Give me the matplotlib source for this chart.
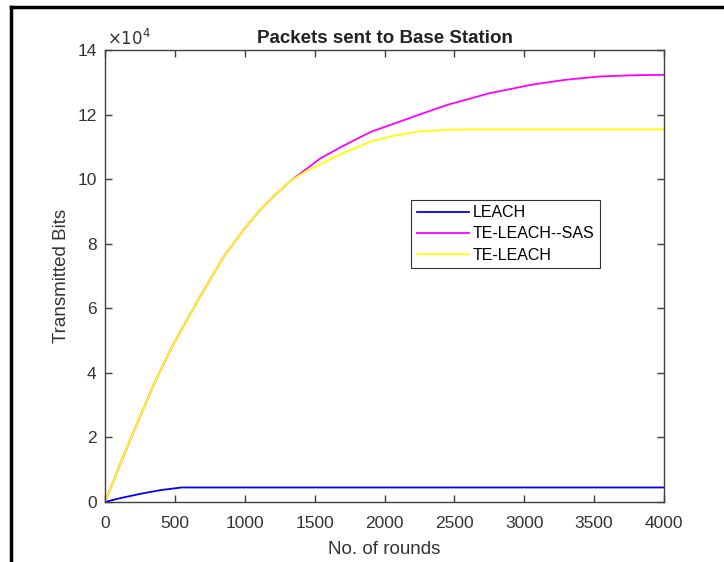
import matplotlib
matplotlib.use('Agg')
import matplotlib.pyplot as plt
from matplotlib.lines import Line2D
from matplotlib.ticker import FuncFormatter

plt.rcParams['font.family'] = ['Liberation Sans', 'DejaVu Sans']

# valores (bits transmitidos)
rounds_leach = [0, 100, 250, 400, 550, 4000]
bits_leach = [0, 1100, 2500, 3700, 4500, 4500]

rounds_sas = [0, 100, 200, 350, 480, 680, 850, 990, 1100, 1230, 1330, 1440,
              1540, 1700, 1900, 2250, 2450, 2750, 3060, 3300, 3540, 3800, 4000]
bits_sas = [0, 10800, 21300, 36500, 48100, 63600, 76000, 84200, 90000, 95600, 99500, 103100,
            106400, 110200, 114600, 120000, 123000, 126600, 129300, 130800, 131800, 132200, 132300]

rounds_te = [0, 100, 200, 350, 480, 680, 850, 990, 1100, 1230, 1330, 1440,
             1540, 1700, 1900, 2050, 2250, 2450, 2600, 4000]
bits_te = [0, 10800, 21300, 36500, 48100, 63600, 76000, 84200, 90000, 95600, 99500, 102500,
           104600, 108000, 111600, 113300, 114800, 115300, 115400, 115400]

fig = plt.figure(figsize=(7.24, 5.62), dpi=100)
ax = fig.add_axes([105/724, 1-502/562, (664-105)/724, (502-50)/562])

ax.plot(rounds_leach, bits_leach, color=(0, 0, 1), lw=1.3, label='LEACH')
ax.plot(rounds_sas, bits_sas, color=(1, 0, 1), lw=1.3, label='TE-LEACH--SAS')
ax.plot(rounds_te, bits_te, color=(1, 1, 0), lw=1.3, label='TE-LEACH')

ax.set_xlim(0, 4000)
ax.set_ylim(0, 140000)
ax.set_xticks(range(0, 4001, 500))
ax.set_yticks(range(0, 140001, 20000))
ax.yaxis.set_major_formatter(FuncFormatter(lambda v, p: '%d' % round(v / 1e4)))

gris = '#404040'
for s in ax.spines.values():
    s.set_color(gris)
    s.set_linewidth(1.0)
ax.tick_params(direction='in', top=True, right=True, length=5, width=1.0,
               colors=gris, labelsize=12.5, labelcolor='#333333', pad=6)
ax.tick_params(axis='x', pad=10)

ax.set_title('Packets sent to Base Station', fontsize=13.5, fontweight='bold', color='#222222', pad=5)
ax.set_xlabel('No. of rounds', fontsize=13.5, color='#333333', labelpad=7)
ax.set_ylabel('Transmitted Bits', fontsize=13.5, color='#333333', labelpad=5)
ax.text(0.003, 1.004, r'$\times10^{4}$', transform=ax.transAxes, fontsize=12,
        color='#333333', va='bottom', ha='left')

leg = ax.legend(loc='upper left', bbox_to_anchor=(411/724, 1-199.5/562),
                bbox_transform=fig.transFigure, fontsize=11.5, frameon=True,
                fancybox=False, framealpha=1, borderaxespad=0, borderpad=0.35,
                handlelength=3.25, handletextpad=0.25, labelspacing=0.4)
leg.get_frame().set_edgecolor('#333333')
leg.get_frame().set_linewidth(0.8)

# marco negro exterior
fig.add_artist(Line2D([11/724, 11/724], [0, 1-6.5/562], transform=fig.transFigure,
                      color='black', lw=2.5))
fig.add_artist(Line2D([11/724, 1], [1-6.5/562, 1-6.5/562], transform=fig.transFigure,
                      color='black', lw=2.5))

fig.savefig('out.png', dpi=100)
